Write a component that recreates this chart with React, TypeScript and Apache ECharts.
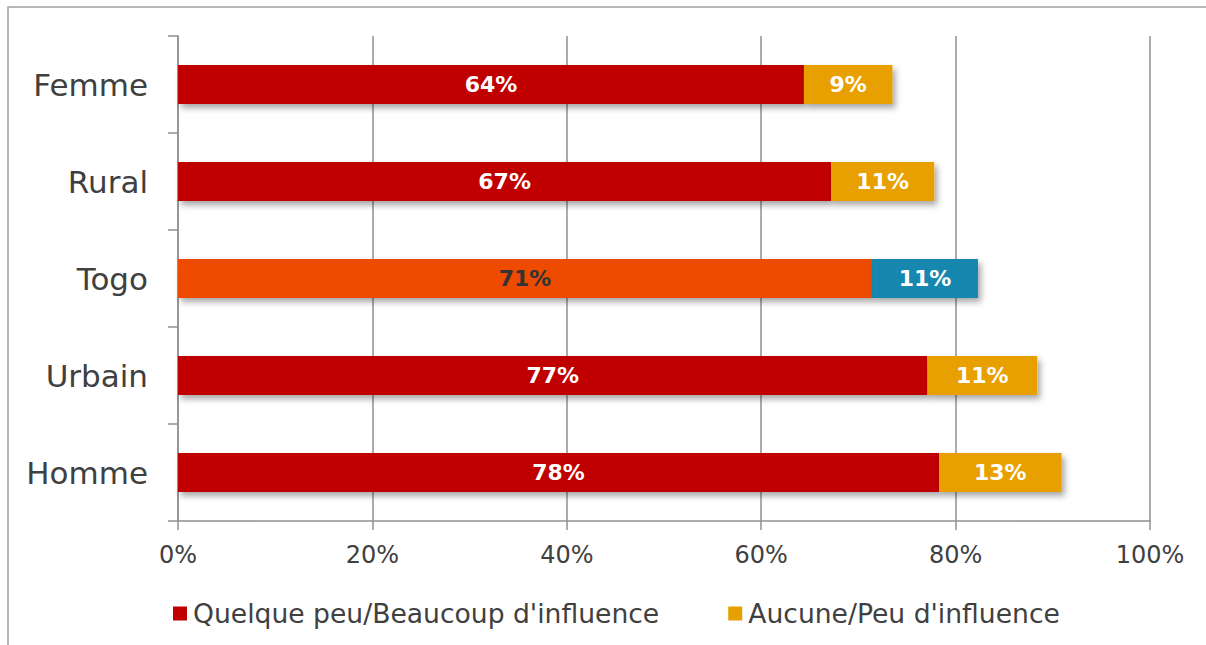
import React, { useEffect, useRef } from "react";
import * as echarts from "echarts";

const categories = ["Femme", "Rural", "Togo", "Urbain", "Homme"];
const influenceSome = [64.4, 67.2, 71.4, 77.1, 78.3];
const influenceNone = [9.1, 10.6, 10.9, 11.3, 12.6];
const seriesNames = ["Quelque peu/Beaucoup d'influence", "Aucune/Peu d'influence"];
const xTicks = [0, 20, 40, 60, 80, 100];
const highlight = "Togo";

const RED = "#C00000";
const GOLD = "#E8A000";
const TOGO_RED = "#EE4B00";
const TOGO_BLUE = "#1287AE";
const FONT = "DejaVu Sans";
const GRID = "#909090";

export default function App() {
  const ref = useRef<HTMLDivElement>(null);
  useEffect(() => {
    if (!ref.current) return;
    const chart = echarts.init(ref.current, null, { renderer: "svg" });
    const shadow = {
      shadowBlur: 6,
      shadowOffsetX: 3,
      shadowOffsetY: 4,
      shadowColor: "rgba(0,0,0,0.35)",
    };
    const lbl = {
      show: true,
      position: "inside",
      color: "#ffffff",
      fontFamily: FONT,
      fontWeight: "bold",
      fontSize: 22,
      formatter: (p: any) => Math.round(p.value) + "%",
    };
    chart.setOption({
      animation: false,
      backgroundColor: "#ffffff",
      textStyle: { fontFamily: FONT },
      grid: { left: 178, right: 56, top: 36, bottom: 124, containLabel: false },
      graphic: [
        {
          type: "rect",
          shape: { x: 8, y: 7, width: 1400, height: 800 },
          style: { fill: "none", stroke: "#A0A0A0", lineWidth: 1.5 },
          silent: true,
        },
      ],
      legend: {
        left: 168,
        top: 595,
        itemWidth: 14,
        itemHeight: 14,
        itemGap: 69,
        icon: "rect",
        textStyle: { fontFamily: FONT, fontSize: 26.6, color: "#404040", padding: [0, 0, 0, 1] },
        data: seriesNames,
      },
      xAxis: {
        type: "value",
        min: xTicks[0],
        max: xTicks[xTicks.length - 1],
        interval: 20,
        axisLine: { show: true, lineStyle: { color: GRID, width: 1.5 } },
        axisTick: { show: true, length: 9, lineStyle: { color: GRID, width: 1.5 } },
        splitLine: { show: true, lineStyle: { color: GRID, width: 1.5 } },
        axisLabel: {
          formatter: "{value}%",
          fontFamily: FONT,
          fontSize: 24,
          color: "#404040",
          margin: 22,
        },
      },
      yAxis: {
        type: "category",
        inverse: true,
        data: categories,
        axisLine: { show: true, lineStyle: { color: GRID, width: 1.5 } },
        axisTick: { show: true, length: 10, lineStyle: { color: GRID, width: 1.5 } },
        axisLabel: {
          fontFamily: FONT,
          fontSize: 31,
          color: "#404040",
          margin: 30,
        },
      },
      series: [
        {
          name: seriesNames[0],
          type: "bar",
          stack: "total",
          barWidth: "40%",
          itemStyle: { color: RED, ...shadow },
          label: lbl,
          data: influenceSome.map((v, i) =>
            categories[i] === highlight
              ? { value: v, itemStyle: { color: TOGO_RED }, label: { color: "#333333" } }
              : v
          ),
        },
        {
          name: seriesNames[1],
          type: "bar",
          stack: "total",
          barWidth: "40%",
          itemStyle: { color: GOLD, ...shadow },
          label: lbl,
          data: influenceNone.map((v, i) =>
            categories[i] === highlight ? { value: v, itemStyle: { color: TOGO_BLUE } } : v
          ),
        },
      ],
    });
    return () => chart.dispose();
  }, []);
  return (
    <div
      ref={ref}
      style={{ position: "fixed", left: 0, top: 0, width: 1206, height: 645, background: "#fff" }}
    />
  );
}
